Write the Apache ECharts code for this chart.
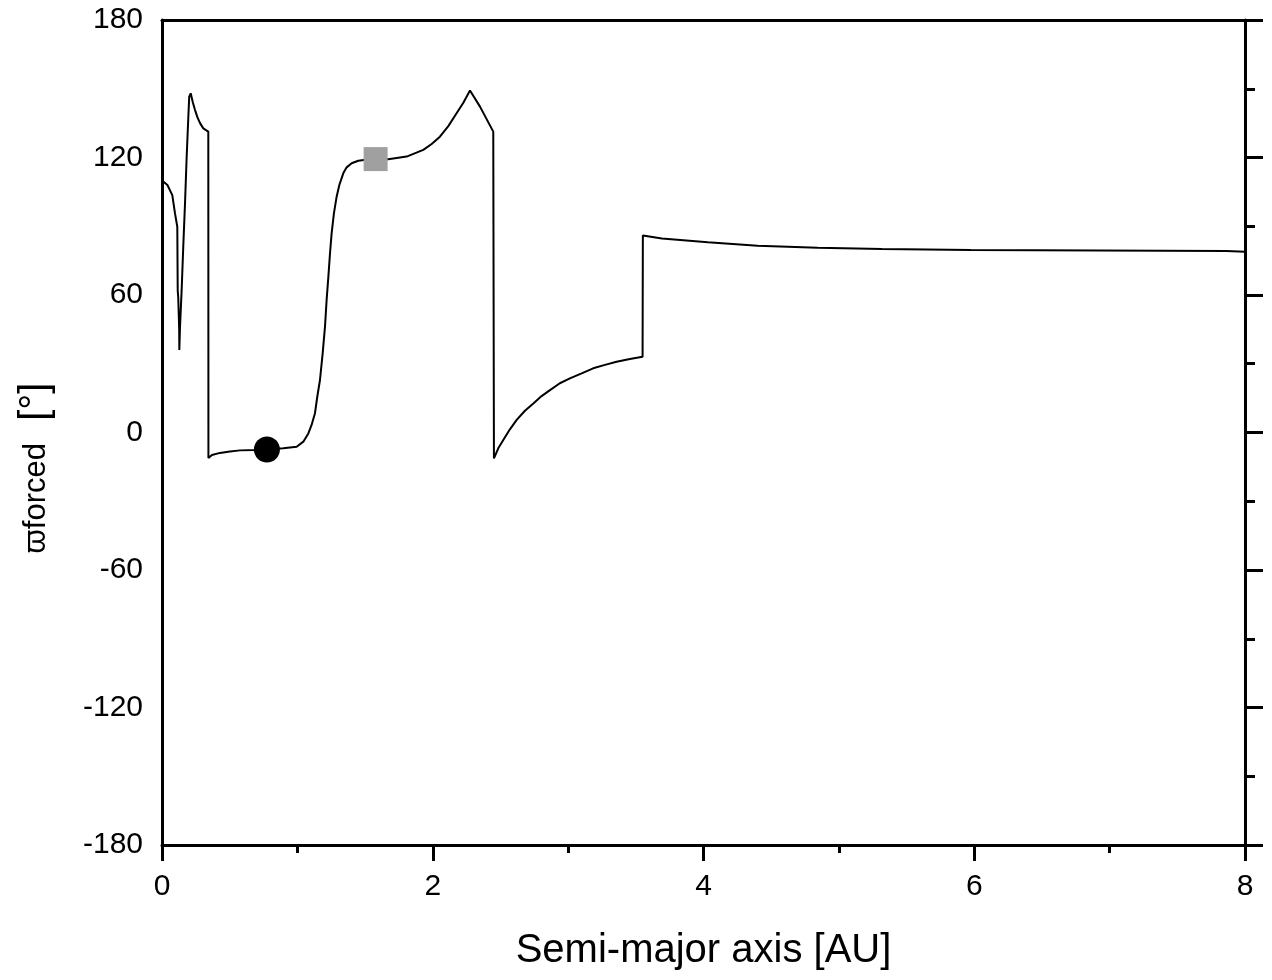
<!DOCTYPE html>
<html>
<head>
<meta charset="utf-8">
<script src="https://cdn.jsdelivr.net/npm/echarts@6/dist/echarts.min.js"></script>
<style>
  html, body { margin: 0; padding: 0; background: #fff; }
  #main { width: 1272px; height: 980px; }
</style>
</head>
<body>
<div id="main"></div>
<script>
// semi-major axis [AU] and forced longitude of pericentre [deg]
var semiMajor = [0, 0.01, 0.04, 0.076, 0.096, 0.113, 0.116, 0.12, 0.127, 0.128, 0.133, 0.145, 0.157, 0.17, 0.182, 0.194, 0.201, 0.212, 0.228, 0.244, 0.262, 0.281, 0.305, 0.342,
  0.343, 0.369, 0.428, 0.502, 0.576, 0.7, 0.775, 0.896, 0.995, 1.044, 1.081, 1.105, 1.13, 1.147, 1.167, 1.187, 1.204, 1.216, 1.229, 1.241, 1.253, 1.27, 1.29, 1.31, 1.339, 1.364, 1.401, 1.45, 1.492, 1.578,
  1.671, 1.807, 1.93, 1.992, 2.053, 2.115, 2.176, 2.226, 2.275, 2.349, 2.447,
  2.452, 2.484, 2.521, 2.57, 2.62, 2.681, 2.743, 2.804, 2.866, 2.939, 3.013, 3.1, 3.185, 3.272, 3.358, 3.456, 3.55,
  3.552, 3.693, 4.032, 4.4, 4.843, 5.318, 5.975, 7.863, 8];
var varpiForced = [110, 109.4, 108, 103.6, 95.6, 89.8, 62, 59, 45, 36, 46, 62, 81, 100, 120, 137, 146.5, 148, 144, 140.7, 137.5, 135, 132.7, 131.3,
  -11.1, -9.8, -8.9, -8.3, -7.8, -7.6, -7.4, -6.9, -6.2, -4.0, -0.4, 3.3, 8.4, 15.6, 22.9, 34.6, 46.2, 57.8, 68, 78.2, 86.9, 95.6, 102.9, 108, 113.1, 115.7, 117.5, 118.6, 118.9, 119.3,
  119.2, 120.4, 123.3, 125.9, 129.1, 133.7, 139.3, 143.9, 149.2, 142.2, 131.3,
  -11.3, -6.9, -3.3, 1.4, 5.5, 9.5, 12.7, 15.9, 18.5, 21.5, 23.6, 25.8, 28, 29.5, 30.9, 32.1, 33.1,
  86, 84.7, 83.0, 81.5, 80.6, 80.1, 79.6, 79.2, 78.9];

// highlighted objects
var circlePoint = [0.775, -7.4];
var squarePoint = [1.578, 119.3];

var xTicks = [0, 2, 4, 6, 8];
var yTicks = [-180, -120, -60, 0, 60, 120, 180];

var curve = semiMajor.map(function (a, i) { return [a, varpiForced[i]]; });

var myChart = echarts.init(document.getElementById('main'));

var font = 'Liberation Sans, Arial, sans-serif';
var axisLine = { show: true, onZero: false, lineStyle: { color: '#000', width: 3 } };

var option = {
  animation: false,
  backgroundColor: '#fff',
  grid: { left: 162, right: 27, top: 20, bottom: 135 },
  xAxis: [{
    type: 'value',
    position: 'bottom',
    min: xTicks[0],
    max: xTicks[xTicks.length - 1],
    interval: 2,
    axisLine: axisLine,
    axisTick: { show: true, length: 16, lineStyle: { color: '#000', width: 3 } },
    minorTick: { show: true, splitNumber: 2, length: 8, lineStyle: { color: '#000', width: 3 } },
    splitLine: { show: false },
    axisLabel: { color: '#000', fontSize: 30, fontFamily: font, margin: 27 },
    name: 'Semi-major axis [AU]',
    nameLocation: 'middle',
    nameGap: 86,
    nameTextStyle: { color: '#000', fontSize: 40, fontFamily: font }
  }, {
    type: 'value',
    position: 'top',
    min: 0, max: 8, interval: 2,
    axisLine: axisLine,
    axisTick: { show: false },
    axisLabel: { show: false },
    splitLine: { show: false }
  }],
  yAxis: [{
    type: 'value',
    position: 'left',
    min: yTicks[0],
    max: yTicks[yTicks.length - 1],
    interval: 60,
    axisLine: axisLine,
    axisTick: { show: false },
    splitLine: { show: false },
    axisLabel: { color: '#000', fontSize: 30, fontFamily: font, margin: 19 }
  }, {
    type: 'value',
    position: 'right',
    min: -180, max: 180, interval: 60,
    axisLine: axisLine,
    axisTick: { show: true, length: 18, lineStyle: { color: '#000', width: 3 } },
    minorTick: { show: true, splitNumber: 2, length: 10, lineStyle: { color: '#000', width: 3 } },
    splitLine: { show: false },
    axisLabel: { show: false }
  }],
  graphic: [{
    type: 'text',
    x: 36,
    y: 468,
    rotation: Math.PI / 2,
    style: {
      text: '{a|ϖforced}{b|  [°]}',
      align: 'center',
      verticalAlign: 'middle',
      fill: '#000',
      rich: {
        a: { fontSize: 31, fontFamily: font, fill: '#000' },
        b: { fontSize: 40, fontFamily: font, fill: '#000' }
      }
    }
  }],
  series: [{
    type: 'line',
    data: curve,
    showSymbol: false,
    lineStyle: { color: '#000', width: 2 },
    z: 2
  }, {
    type: 'scatter',
    data: [circlePoint],
    symbol: 'circle',
    symbolSize: 26,
    itemStyle: { color: '#000', opacity: 1 },
    z: 3
  }, {
    type: 'scatter',
    data: [squarePoint],
    symbol: 'rect',
    symbolSize: 24,
    itemStyle: { color: '#a0a0a0', opacity: 1 },
    z: 3
  }]
};

myChart.setOption(option);
</script>
</body>
</html>
